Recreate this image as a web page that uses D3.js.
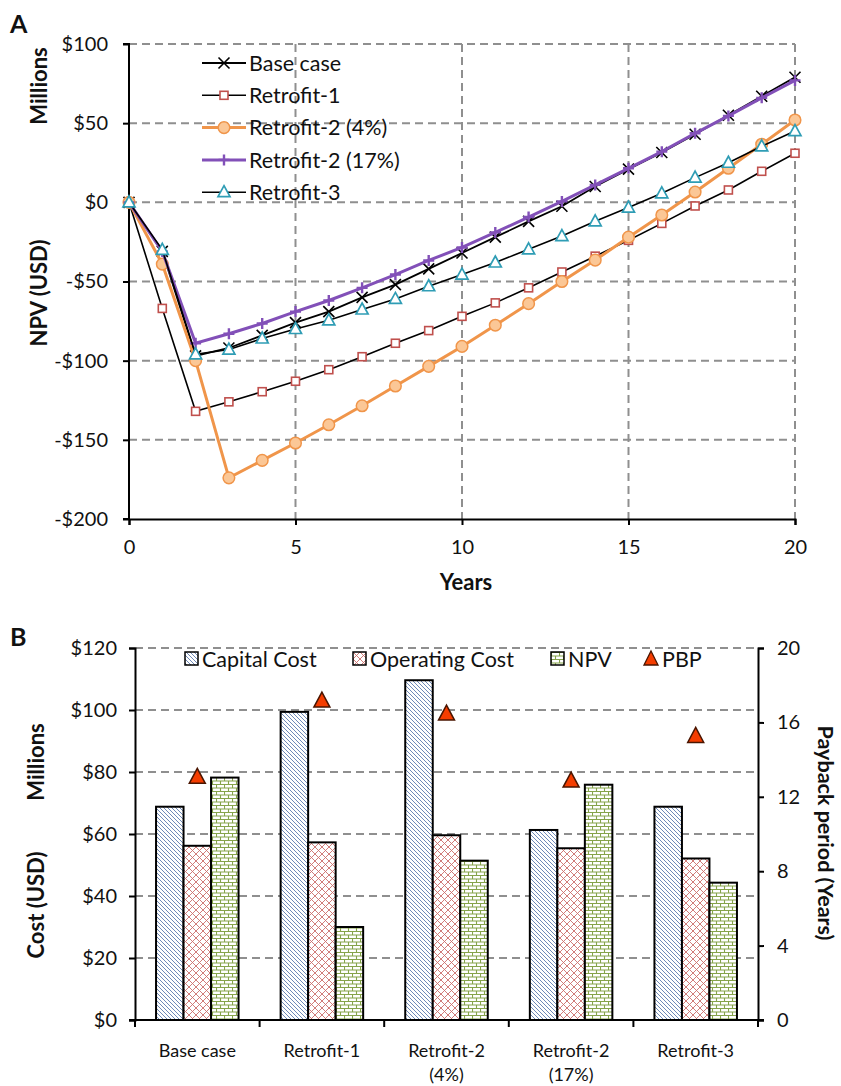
<!DOCTYPE html>
<meta charset="utf-8">
<style>
body { margin: 0; background: #fff; }
svg text { font-family: Lato, "Open Sans", sans-serif; fill: #111; }
.grid line { stroke: #8f8f8f; stroke-width: 2; stroke-dasharray: 8,5; }
.axis path, .axis line { stroke: #000; stroke-width: 2; }
.axis text { font-size: 20px; }
.title { font-weight: bold; font-size: 22px; }
.legend text { font-size: 21.5px; }
</style>
<svg width="841" height="1086"></svg>
<script src="https://d3js.org/d3.v7.min.js"></script>
<script>

// ---- panel A data (NPV in $ millions by year) ----
var years = [0,1,2,3,4,5,6,7,8,9,10,11,12,13,14,15,16,17,18,19,20];
var baseCase   = [0,-31,-97,-92,-84,-76,-69,-60,-52,-42,-32,-22,-12,-2.5,10,21,31.5,43,55,67,79];
var retrofit1  = [0,-67,-132,-126,-119.6,-113,-105.7,-97.5,-89,-81,-72,-63.5,-54,-44,-34,-24,-13.3,-2.3,7.8,19.6,31];
var retrofit24 = [0,-39,-100,-174,-163,-152,-140.5,-128.5,-116,-103.6,-91,-77.6,-64,-50,-36.5,-22,-8,6.5,21.5,36.7,52];
var retrofit217 = [0,-31,-89,-83,-76.5,-69,-62,-54,-45.6,-36.7,-28.5,-19,-9.3,0.6,11,21.5,32,43.6,54.6,66,77];
var retrofit3  = [0,-30,-96,-93,-86,-80,-74.5,-67.7,-61,-53,-45.6,-38,-29.7,-21.3,-12,-3.3,5.7,15.6,25,35.4,45];
var seriesNames = ["Base case", "Retrofit-1", "Retrofit-2 (4%)", "Retrofit-2 (17%)", "Retrofit-3"];
var yTicksA = [-200,-150,-100,-50,0,50,100];
var xTicksA = [0,5,10,15,20];

// ---- panel B data ----
var categories = ["Base case", "Retrofit-1", "Retrofit-2 (4%)", "Retrofit-2 (17%)", "Retrofit-3"];
var catLabels = [["Base case"], ["Retrofit-1"], ["Retrofit-2", "(4%)"], ["Retrofit-2", "(17%)"], ["Retrofit-3"]];
var capitalCost   = [68.8, 99.4, 109.6, 61.3, 68.8];
var operatingCost = [56.2, 57.3, 59.6, 55.4, 52.1];
var npvB          = [78.2, 30.0, 51.4, 75.9, 44.3];
var pbp           = [13.1, 17.2, 16.5, 12.9, 15.3];
var barNames = ["Capital Cost", "Operating Cost", "NPV"];
var yTicksB = [0,20,40,60,80,100,120];
var yTicksR = [0,4,8,12,16,20];

var svg = d3.select("svg");

// patterns for the bars
var defs = svg.append("defs");
var p1 = defs.append("pattern").attr("id", "hatchBlue").attr("patternUnits", "userSpaceOnUse")
    .attr("width", 4).attr("height", 4);
p1.append("rect").attr("width", 4).attr("height", 4).attr("fill", "#fff");
p1.append("path").attr("d", "M-1,-1L5,5M-1,3L1,5M3,-1L5,1")
    .attr("stroke", "#4a6ca6").attr("stroke-width", 0.8);

var p2 = defs.append("pattern").attr("id", "crossRed").attr("patternUnits", "userSpaceOnUse")
    .attr("width", 7).attr("height", 7);
p2.append("rect").attr("width", 7).attr("height", 7).attr("fill", "#fff");
p2.append("path").attr("d", "M0,0L7,7M7,0L0,7")
    .attr("stroke", "#cc6e6b").attr("stroke-width", 0.9);

var p3 = defs.append("pattern").attr("id", "brickGreen").attr("patternUnits", "userSpaceOnUse")
    .attr("width", 8).attr("height", 7);
p3.append("rect").attr("width", 8).attr("height", 7).attr("fill", "#fff");
p3.append("path").attr("d", "M0,0.5H8M0,4H8M0.5,0.5V4M4.5,4V7")
    .attr("stroke", "#86a34a").attr("stroke-width", 1.1);

// ================= PANEL A =================
var x = d3.scaleLinear().domain([0, 20]).range([129, 795]);
var y = d3.scaleLinear().domain([-200, 100]).range([519, 44]);

var money = function(d) { return d < 0 ? "-$" + (-d) : "$" + d; };

var gA = svg.append("g");

gA.append("g").attr("class", "grid")
  .selectAll("line").data(yTicksA.filter(function(d) { return d > -200; }))
  .enter().append("line")
    .attr("x1", x(0)).attr("x2", x(20))
    .attr("y1", function(d) { return y(d); }).attr("y2", function(d) { return y(d); });

gA.append("g").attr("class", "grid")
  .selectAll("line").data(xTicksA.filter(function(d) { return d > 0; }))
  .enter().append("line")
    .attr("y1", y(100)).attr("y2", y(-200))
    .attr("x1", function(d) { return x(d); }).attr("x2", function(d) { return x(d); });

gA.append("g").attr("class", "axis")
    .attr("transform", "translate(" + x(0) + ",0)")
    .call(d3.axisLeft(y).tickValues(yTicksA).tickSize(6).tickPadding(15).tickFormat(money))
  .select(".domain").attr("d", "M-6," + y(100) + "H0V" + y(-200) + "H-6");

gA.append("g").attr("class", "axis")
    .attr("transform", "translate(0," + y(-200) + ")")
    .call(d3.axisBottom(x).tickValues(xTicksA).tickSize(6).tickPadding(15));

var lineGen = d3.line()
    .x(function(d, i) { return x(years[i]); })
    .y(function(d) { return y(d); });

var styles = [
  {data: baseCase,    stroke: "#000",    width: 1.8, marker: "x"},
  {data: retrofit1,   stroke: "#000",    width: 1.6, marker: "square"},
  {data: retrofit24,  stroke: "#f0954a", width: 3,   marker: "circle"},
  {data: retrofit217, stroke: "#8250b8", width: 3,   marker: "plus"},
  {data: retrofit3,   stroke: "#000",    width: 1.6, marker: "triangle"}
];

function drawMarker(sel, type) {
  if (type == "x") {
    sel.append("path").attr("d", "M-5.5,-5.5L5.5,5.5M-5.5,5.5L5.5,-5.5").attr("stroke", "#000").attr("stroke-width", 1.6).attr("fill", "none");
  } else if (type == "square") {
    sel.append("rect").attr("x", -4).attr("y", -4).attr("width", 8).attr("height", 8)
      .attr("fill", "#fff").attr("stroke", "#c0504d").attr("stroke-width", 1.6);
  } else if (type == "circle") {
    sel.append("circle").attr("r", 5.8).attr("fill", "#fbc796").attr("stroke", "#f0954a").attr("stroke-width", 1.5);
  } else if (type == "plus") {
    sel.append("path").attr("d", "M-5.5,0H5.5M0,-5.5V5.5").attr("stroke", "#8250b8").attr("stroke-width", 2.4).attr("fill", "none");
  } else if (type == "triangle") {
    sel.append("path").attr("d", "M0,-6.5L6,4.5H-6Z").attr("fill", "#fff").attr("stroke", "#2f9db5").attr("stroke-width", 1.7);
  }
}

styles.forEach(function(s) {
  gA.append("path").datum(s.data)
    .attr("fill", "none").attr("stroke", s.stroke).attr("stroke-width", s.width)
    .attr("d", lineGen);
  gA.append("g").selectAll("g").data(s.data).enter().append("g")
    .attr("transform", function(d, i) { return "translate(" + x(years[i]) + "," + y(d) + ")"; })
    .each(function() { drawMarker(d3.select(this), s.marker); });
});

// legend A
var legA = gA.append("g").attr("class", "legend");
seriesNames.forEach(function(name, i) {
  var row = legA.append("g").attr("transform", "translate(202," + (63 + i * 32.3) + ")");
  row.append("line").attr("x1", 0).attr("x2", 44).attr("stroke", styles[i].stroke).attr("stroke-width", styles[i].width);
  drawMarker(row.append("g").attr("transform", "translate(22,0)"), styles[i].marker);
  row.append("text").attr("x", 47).attr("dy", "0.36em").text(name);
});

gA.append("text").attr("class", "title").attr("x", 466).attr("y", 590).attr("text-anchor", "middle").text("Years");
gA.append("text").attr("class", "title").attr("transform", "translate(47,86) rotate(-90)").attr("text-anchor", "middle").text("Millions");
gA.append("text").attr("class", "title").attr("transform", "translate(47,293) rotate(-90)").attr("text-anchor", "middle").text("NPV (USD)");
svg.append("text").attr("x", 10).attr("y", 33).attr("font-size", 25).attr("font-weight", "bold").text("A");

// ================= PANEL B =================
var xb = d3.scaleBand().domain(categories).range([135, 758]);
var xInner = d3.scaleBand().domain(barNames).range([0, xb.bandwidth()]).paddingOuter(0.765);
var yb = d3.scaleLinear().domain([0, 120]).range([1020, 648]);
var yr = d3.scaleLinear().domain([0, 20]).range([1020, 648]);

var gB = svg.append("g");

gB.append("g").attr("class", "grid")
  .selectAll("line").data(yTicksB.filter(function(d) { return d > 0; }))
  .enter().append("line")
    .attr("x1", 135).attr("x2", 758)
    .attr("y1", function(d) { return yb(d); }).attr("y2", function(d) { return yb(d); });

var fills = ["url(#hatchBlue)", "url(#crossRed)", "url(#brickGreen)"];
var barSeries = [capitalCost, operatingCost, npvB];

barSeries.forEach(function(vals, j) {
  gB.append("g").selectAll("rect").data(vals).enter().append("rect")
    .attr("x", function(d, i) { return xb(categories[i]) + xInner(barNames[j]); })
    .attr("width", xInner.bandwidth())
    .attr("y", function(d) { return yb(d); })
    .attr("height", function(d) { return yb(0) - yb(d); })
    .attr("fill", fills[j]).attr("stroke", "#000").attr("stroke-width", 2);
});

var tri = "M0,-9L8,6H-8Z";
gB.append("g").selectAll("path").data(pbp).enter().append("path")
  .attr("d", tri)
  .attr("transform", function(d, i) { return "translate(" + (xb(categories[i]) + xb.bandwidth() / 2) + "," + (yr(d) + 1) + ")"; })
  .attr("fill", "#f53d00").attr("stroke", "#4a1500").attr("stroke-width", 1.5);

gB.append("g").attr("class", "axis")
    .attr("transform", "translate(135,0)")
    .call(d3.axisLeft(yb).tickValues(yTicksB).tickSize(6).tickPadding(12).tickFormat(money));

gB.append("g").attr("class", "axis")
    .attr("transform", "translate(758,0)")
    .call(d3.axisRight(yr).tickValues(yTicksR).tickSize(6).tickPadding(13));

var xAxisB = gB.append("g").attr("class", "axis").attr("transform", "translate(0,1020)");
xAxisB.append("line").attr("x1", 129).attr("x2", 764);
xAxisB.selectAll(".tk").data(categories.concat(["end"])).enter().append("line")
  .attr("class", "tk")
  .attr("x1", function(d, i) { return i < categories.length ? xb(d) : xb.range()[1]; })
  .attr("x2", function(d, i) { return i < categories.length ? xb(d) : xb.range()[1]; })
  .attr("y1", 0).attr("y2", 7);
xAxisB.selectAll(".lbl").data(catLabels).enter().append("text")
  .attr("class", "lbl")
  .attr("x", function(d, i) { return xb(categories[i]) + xb.bandwidth() / 2; })
  .attr("y", 37).attr("text-anchor", "middle").style("font-size", "18px")
  .each(function(d) {
    var t = d3.select(this);
    d.forEach(function(s, k) {
      t.append("tspan").attr("x", t.attr("x")).attr("dy", k == 0 ? 0 : 24).text(s);
    });
  });

// legend B
var legB = gB.append("g").attr("class", "legend");
var legItems = [
  {name: "Capital Cost", x: 185, fill: fills[0]},
  {name: "Operating Cost", x: 353, fill: fills[1]},
  {name: "NPV", x: 551, fill: fills[2]},
  {name: "PBP", x: 644, fill: null}
];
legItems.forEach(function(it) {
  var g = legB.append("g").attr("transform", "translate(" + it.x + ",659)");
  if (it.fill) {
    g.append("rect").attr("x", 0).attr("y", -7).attr("width", 13).attr("height", 13)
      .attr("fill", it.fill).attr("stroke", "#000").attr("stroke-width", 1.5);
  } else {
    g.append("path").attr("d", "M7,-8L14,6H0Z").attr("fill", "#f53d00").attr("stroke", "#4a1500").attr("stroke-width", 1.3);
  }
  g.append("text").attr("x", it.fill ? 17 : 18).attr("dy", "0.36em").text(it.name);
});

gB.append("text").attr("class", "title").attr("transform", "translate(44,762) rotate(-90)").attr("text-anchor", "middle").text("Millions");
gB.append("text").attr("class", "title").attr("transform", "translate(44,905) rotate(-90)").attr("text-anchor", "middle").text("Cost (USD)");
gB.append("text").attr("class", "title").style("font-size", "21.5px")
  .attr("transform", "translate(818,833) rotate(90)").attr("text-anchor", "middle").text("Payback period (Years)");
svg.append("text").attr("x", 10).attr("y", 646).attr("font-size", 25).attr("font-weight", "bold").text("B");

</script>
